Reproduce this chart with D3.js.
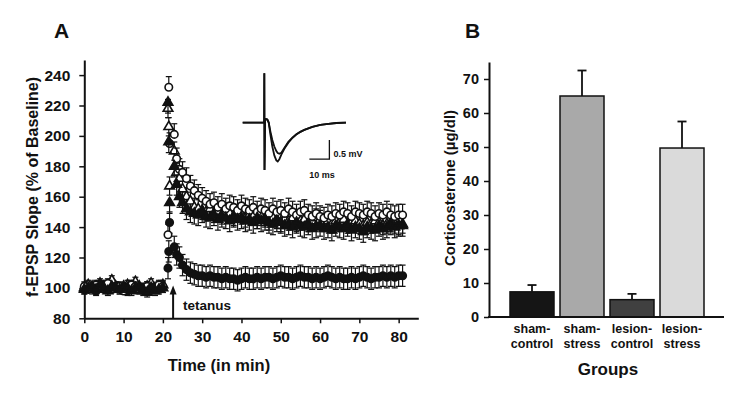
<!DOCTYPE html>
<html><head><meta charset="utf-8">
<script src="https://cdn.jsdelivr.net/npm/d3@7"></script>
<style>
html,body{margin:0;padding:0;background:#fff;}
svg text{font-family:"Liberation Sans",Arial,sans-serif;font-weight:bold;fill:#111;}
</style></head>
<body><svg id="c" width="756" height="408"></svg>
<script>
// ---------- Panel A data ----------
const times = [0,1,2,3,4,5,6,7,8,9,10,11,12,13,14,15,16,17,18,19,20,
  21.3,21.5,21.7,22.9,23.5,24.2,
  25,26,27,28,29,30,31,32,33,34,35,36,37,38,39,40,41,42,43,44,45,46,47,48,49,50,
  51,52,53,54,55,56,57,58,59,60,61,62,63,64,65,66,67,68,69,70,71,72,73,74,75,76,77,78,79,80,81];
// open circles
const seriesOpenCircle = [101,99,100,102,100,101,103,99,100,101,98,100,102,101,99,100,101,100,99,102,101,
  135,232,195,201,185,178,
  176,172,167,164,161,159,157,155,156,153,155,152,154,153,151,154,152,151,153,150,152,151,149,152,150,151,
  149,152,150,148,150,151,148,147,149,147,146,148,147,149,148,150,149,147,150,149,148,150,149,147,149,148,150,148,147,148,148];
// filled triangles
const seriesFilledTriangle = [99,100,101,99,102,100,98,101,100,99,101,100,98,100,101,99,97,100,98,99,100,
  222,196,156,180,168,160,
  156,152,150,149,148,150,147,146,148,145,147,146,144,147,145,146,144,145,143,146,144,145,143,142,144,143,
  141,142,140,143,141,140,142,139,140,141,139,140,138,141,140,139,141,138,140,139,137,140,139,138,141,139,140,142,140,141,141];
// open triangles
const seriesOpenTriangle = [100,102,99,101,103,101,100,105,101,99,100,102,101,104,100,98,101,103,100,101,102,
  218,206,167,190,176,172,
  165,160,157,153,152,151,150,152,149,150,148,150,149,147,149,148,146,148,147,145,147,146,144,146,145,143,
  145,144,146,143,144,145,143,144,146,145,143,144,142,144,143,145,142,143,144,142,141,143,142,144,143,141,142,143,142,141,142];
// filled circles (lower group)
const seriesFilledCircle = [99,101,100,98,100,102,99,100,101,100,99,98,100,101,99,100,98,99,100,101,100,
  113,124,143,127,122,120,
  115,112,110,109,108,108,107,108,107,107,106,107,106,106,105,106,107,106,106,107,106,107,107,106,107,108,
  107,107,106,107,108,107,107,106,107,106,107,108,107,106,107,106,106,107,106,107,108,107,106,107,107,108,107,108,107,108,108];
const baselineErr = [3,3,3,3];       // SEM during baseline (circle, filled tri, open tri, filled circle)
const postErr = [7,7,6,7];           // SEM after tetanus
const tetanusTime = 22.6;
const xTicksA = [0,10,20,30,40,50,60,70,80];
const yTicksA = [80,100,120,140,160,180,200,220,240];

// inset traces (ms, mV)
const traceT  = [-10.8,-0.1,0,0.1,0.4,1.5,2.2,3,4,5,6,6.7,7.5,8.5,10,12,14,16,18,20,24,28,32,36,40.8];
const traceV1 = [0,0,1.28,-1.23,0.1,0.08,0,-0.3,-0.62,-0.85,-0.98,-1.01,-0.95,-0.83,-0.68,-0.52,-0.4,-0.31,-0.24,-0.19,-0.11,-0.06,-0.03,-0.01,0];
const traceV2 = [0,0,1.28,-1.23,0.1,0.08,0,-0.22,-0.45,-0.62,-0.74,-0.79,-0.81,-0.78,-0.66,-0.5,-0.39,-0.3,-0.24,-0.19,-0.11,-0.06,-0.03,-0.01,0];

// ---------- Panel B data ----------
const groups = ["sham-control","sham-stress","lesion-control","lesion-stress"];
const cortMean = [7.4, 65.0, 5.1, 49.7];
const cortErr  = [2.0, 7.5, 1.7, 7.8];
const barColors = ["#151515","#a9a9a9","#404040","#dadada"];
const yTicksB = [0,10,20,30,40,50,60,70];

const svg = d3.select("#c");

// ================= Panel A =================
const xA = d3.scaleLinear().domain([0,85]).range([84.3,418.3]);
const yA = d3.scaleLinear().domain([80,250]).range([318.3,59.9]);

const gA = svg.append("g");
const axXA = gA.append("g").attr("transform",`translate(0,${yA(80)})`)
  .call(d3.axisBottom(xA).tickValues(xTicksA).tickSize(5).tickSizeOuter(0).tickPadding(8));
const axYA = gA.append("g").attr("transform",`translate(${xA(0)},0)`)
  .call(d3.axisLeft(yA).tickValues(yTicksA).tickSize(5).tickSizeOuter(0).tickPadding(9));
[axXA,axYA].forEach(a=>{
  a.select(".domain").attr("stroke","#111").attr("stroke-width",2);
  a.selectAll(".tick line").attr("stroke","#111").attr("stroke-width",1.5);
  a.selectAll(".tick text").style("font-size","15.5px").attr("fill","#111");
});

const series = [
  {v:seriesFilledCircle, i:3, shape:"circle", fill:"#111", dir:"both"},
  {v:seriesOpenTriangle, i:2, shape:"triangle", fill:"#fff", dir:"both"},
  {v:seriesOpenCircle, i:0, shape:"circle", fill:"#fff", dir:"up"},
  {v:seriesFilledTriangle, i:1, shape:"triangle", fill:"#111", dir:"down"},
];
const symC = d3.symbol().type(d3.symbolCircle).size(44);
const symT = d3.symbol().type(d3.symbolTriangle).size(40);

series.forEach(s=>{
  const g = gA.append("g");
  const pts = times.map((t,k)=>({t, v:s.v[k], e: t<21 ? baselineErr[s.i] : postErr[s.i]}));
  pts.forEach(p=>{
    const segs = [];
    if (s.dir!=="down") segs.push(p.v+p.e);
    if (s.dir!=="up") segs.push(p.v-p.e);
    segs.forEach(ev=>{
      g.append("line").attr("x1",xA(p.t)).attr("x2",xA(p.t)).attr("y1",yA(p.v)).attr("y2",yA(ev))
        .attr("stroke","#111").attr("stroke-width",1.2);
      g.append("line").attr("x1",xA(p.t)-3).attr("x2",xA(p.t)+3).attr("y1",yA(ev)).attr("y2",yA(ev))
        .attr("stroke","#111").attr("stroke-width",1.2);
    });
  });
  g.selectAll("path.m").data(pts).join("path").attr("class","m")
    .attr("d", s.shape==="circle"?symC:symT)
    .attr("transform",p=>`translate(${xA(p.t)},${yA(p.v)})`)
    .attr("fill",s.fill).attr("stroke","#111").attr("stroke-width",1.6);
});

// tetanus arrow
gA.append("line").attr("x1",xA(tetanusTime)).attr("x2",xA(tetanusTime))
  .attr("y1",yA(80)).attr("y2",yA(97)).attr("stroke","#111").attr("stroke-width",2);
gA.append("path").attr("d",`M${xA(tetanusTime)},${yA(101.5)} l-3.5,9 l7,0 z`).attr("fill","#111");
gA.append("text").attr("x",xA(tetanusTime)+10).attr("y",310).style("font-size","13.5px").text("tetanus");

// labels
gA.append("text").attr("x",219).attr("y",371).attr("text-anchor","middle").style("font-size","16.5px").text("Time (in min)");
gA.append("text").attr("transform","translate(38,187) rotate(-90)").attr("text-anchor","middle")
  .style("font-size","16px").text("f-EPSP Slope (% of Baseline)");
gA.append("text").attr("x",54).attr("y",38).style("font-size","21px").text("A");

// inset
const xI = d3.scaleLinear().domain([-10.8,40.8]).range([242.7,346]);
const yI = d3.scaleLinear().domain([-1.23,1.28]).range([170,73.3]);
const lineI = d3.line().x((d,k)=>xI(traceT[k])).y(d=>yI(d));
gA.append("path").attr("d",lineI(traceV2)).attr("fill","none").attr("stroke","#111").attr("stroke-width",1.8);
gA.append("path").attr("d",lineI(traceV1)).attr("fill","none").attr("stroke","#111").attr("stroke-width",1.8);
gA.append("path").attr("d",`M${xI(22.5)},${yI(-0.95)} L${xI(32.5)},${yI(-0.95)} L${xI(32.5)},${yI(-0.45)}`)
  .attr("fill","none").attr("stroke","#111").attr("stroke-width",1.3);
gA.append("text").attr("x",xI(32.5)+4).attr("y",157).style("font-size","9px").text("0.5 mV");
gA.append("text").attr("x",xI(22.5)).attr("y",178).style("font-size","9px").text("10 ms");

// ================= Panel B =================
const xB = d3.scaleBand().domain(groups).range([507,707]).paddingInner(0.12).paddingOuter(0.06);
const yB = d3.scaleLinear().domain([0,75]).range([317,62]);
const gB = svg.append("g");

gB.selectAll("line.err").data(groups).join("line").attr("class","err")
  .attr("x1",d=>xB(d)+xB.bandwidth()/2).attr("x2",d=>xB(d)+xB.bandwidth()/2)
  .attr("y1",(d,i)=>yB(cortMean[i])).attr("y2",(d,i)=>yB(cortMean[i]+cortErr[i]))
  .attr("stroke","#111").attr("stroke-width",1.8);
gB.selectAll("line.cap").data(groups).join("line").attr("class","cap")
  .attr("x1",d=>xB(d)+xB.bandwidth()/2-4.5).attr("x2",d=>xB(d)+xB.bandwidth()/2+4.5)
  .attr("y1",(d,i)=>yB(cortMean[i]+cortErr[i])).attr("y2",(d,i)=>yB(cortMean[i]+cortErr[i]))
  .attr("stroke","#111").attr("stroke-width",1.8);
gB.selectAll("rect").data(groups).join("rect")
  .attr("x",d=>xB(d)).attr("width",xB.bandwidth())
  .attr("y",(d,i)=>yB(cortMean[i])).attr("height",(d,i)=>yB(0)-yB(cortMean[i]))
  .attr("fill",(d,i)=>barColors[i]).attr("stroke","#111").attr("stroke-width",1.5);

const axYB = gB.append("g").attr("transform","translate(489,0)")
  .call(d3.axisLeft(yB).tickValues(yTicksB).tickSize(5).tickSizeOuter(0).tickPadding(5));
axYB.select(".domain").attr("stroke","#111").attr("stroke-width",2);
axYB.selectAll(".tick line").attr("stroke","#111").attr("stroke-width",1.5);
axYB.selectAll(".tick text").style("font-size","14.5px").attr("fill","#111");
gB.append("line").attr("x1",488).attr("x2",724).attr("y1",yB(0)).attr("y2",yB(0))
  .attr("stroke","#111").attr("stroke-width",2);

gB.selectAll("text.cat").data(groups).join("text").attr("class","cat")
  .attr("text-anchor","middle").style("font-size","12.5px")
  .each(function(d){
    const parts = d.split("-");
    const cx = xB(d)+xB.bandwidth()/2;
    d3.select(this).append("tspan").attr("x",cx).attr("y",333).text(parts[0]+"-");
    d3.select(this).append("tspan").attr("x",cx).attr("y",348).text(parts[1]);
  });
gB.append("text").attr("x",608).attr("y",375).attr("text-anchor","middle").style("font-size","17px").text("Groups");
gB.append("text").attr("transform","translate(455,188) rotate(-90)").attr("text-anchor","middle")
  .style("font-size","15px").text("Corticosterone (µg/dl)");
gB.append("text").attr("x",465).attr("y",38).style("font-size","21px").text("B");
</script></body></html>
